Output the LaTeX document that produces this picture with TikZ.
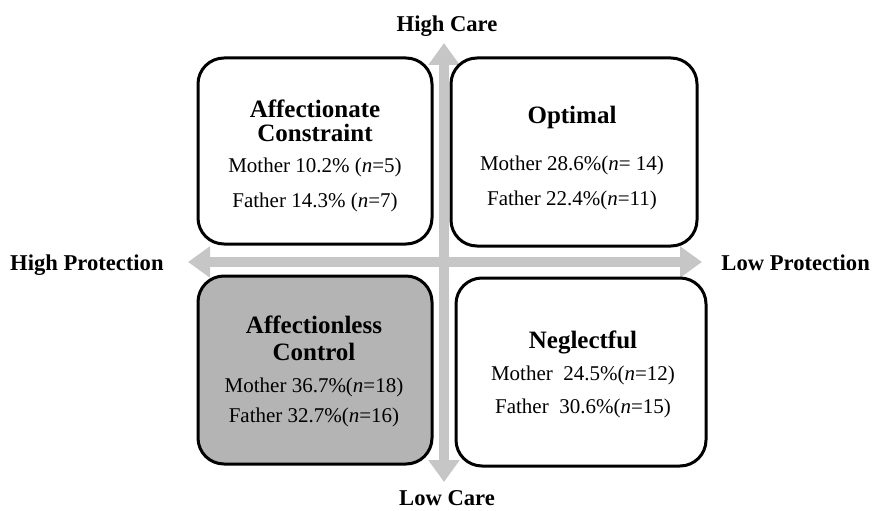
\documentclass[tikz,border=0pt]{standalone}
\usepackage{fontspec}
\setmainfont{Liberation Serif}
\usetikzlibrary{arrows.meta}
\definecolor{arrowgray}{RGB}{198,198,198}
\definecolor{boxgray}{RGB}{180,180,180}
\begin{document}
\begin{tikzpicture}[x=1pt,y=-1pt,
  quad/.style={draw, line width=3pt, rounded corners=26pt, fill=white, inner sep=0pt},
  ttl/.style={anchor=base, inner sep=0pt, font=\fontsize{25}{25}\selectfont\bfseries},
  bod/.style={anchor=base, inner sep=0pt, font=\fontsize{21}{21}\selectfont},
  axl/.style={anchor=base, inner sep=0pt, font=\fontsize{22.6}{22.6}\selectfont\bfseries},
  axis/.style={draw=arrowgray, line width=10pt, {Triangle[width=30pt,length=22pt]}-{Triangle[width=30pt,length=22pt]}}]
\useasboundingbox (0,0) rectangle (875,511);
% axes
\coordinate (top) at (444,43);
\coordinate (bot) at (444,482);
\coordinate (lft) at (188,262);
\coordinate (rgt) at (702,262);
\draw[axis] (bot) -- (top);
\draw[axis] (lft) -- (rgt);
% boxes
\node[quad, minimum width=234pt, minimum height=186pt] (tl) at (315,151) {};
\node[quad, minimum width=246pt, minimum height=188pt] (tr) at (574,152) {};
\node[quad, fill=boxgray, minimum width=234pt, minimum height=188pt] (bl) at (315,370) {};
\node[quad, minimum width=250pt, minimum height=188pt] (br) at (581,372) {};
% texts TL
\node[ttl] (tl1) at (315,117) {Affectionate};
\node[ttl] (tl2) at (315,141) {Constraint};
\node[bod] (tl3) at (315,172) {Mother 10.2\% (\textit{n}=5)};
\node[bod] (tl4) at (315,207) {Father 14.3\% (\textit{n}=7)};
% texts TR
\node[ttl] (tr1) at (572,123) {Optimal};
\node[bod] (tr2) at (572,170) {Mother 28.6\%(\textit{n}= 14)};
\node[bod] (tr3) at (572,205) {Father 22.4\%(\textit{n}=11)};
% texts BL
\node[ttl] (bl1) at (314,333) {Affectionless};
\node[ttl] (bl2) at (314,360) {Control};
\node[bod] (bl3) at (314,392) {Mother 36.7\%(\textit{n}=18)};
\node[bod] (bl4) at (314,422) {Father 32.7\%(\textit{n}=16)};
% texts BR
\node[ttl] (br1) at (583,348) {Neglectful};
\node[bod] (br2) at (583,380) {Mother\ \ 24.5\%(\textit{n}=12)};
\node[bod] (br3) at (583,413) {Father\ \ 30.6\%(\textit{n}=15)};
% axis labels
\node[axl] (hc) at (447,32) {High Care};
\node[axl] (lc) at (447,505) {Low Care};
\node[axl, anchor=base west] (hp) at (10,270) {High Protection};
\node[axl, anchor=base east] (lp) at (870,270) {Low Protection};
\end{tikzpicture}
\end{document}
